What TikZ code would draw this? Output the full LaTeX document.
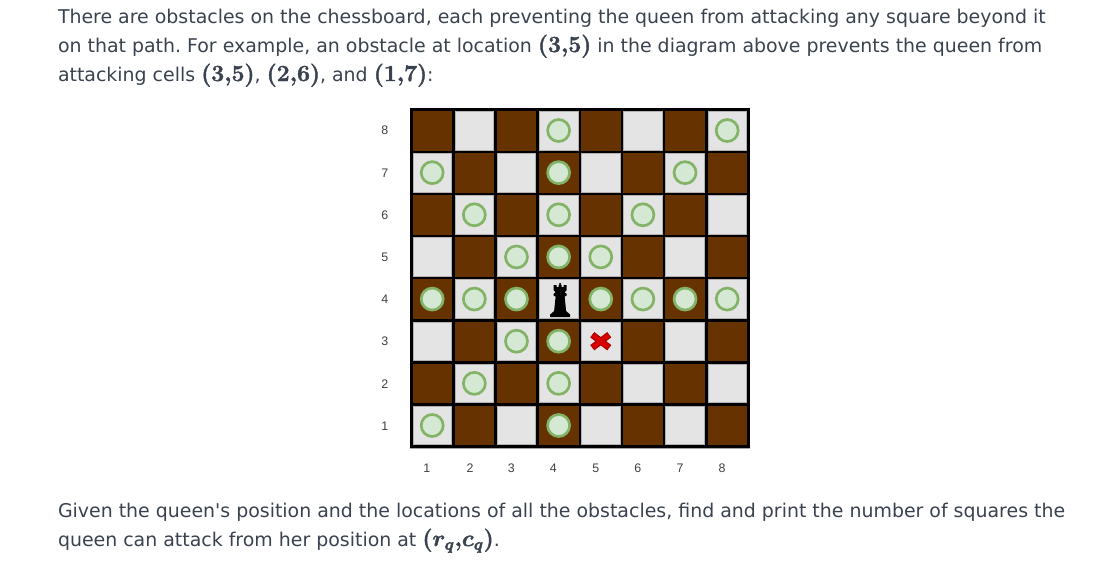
\documentclass[tikz,border=0pt]{standalone}
\usepackage{fontspec}
\setmainfont{DejaVu Sans}[Ligatures=TeXOff]
\newfontfamily\labelfont{Liberation Sans}
\usepackage{xcolor}
\usepackage{amsmath}
\definecolor{inkgray}{HTML}{39424E}
\definecolor{lightsq}{HTML}{E4E4E4}
\definecolor{darksq}{HTML}{663300}
\definecolor{markfill}{HTML}{D5E8D4}
\definecolor{markline}{HTML}{82B366}
\tikzstyle{textline} = [anchor=base west, inner sep=0pt, outer sep=0pt, text=inkgray, font=\fontsize{14.2}{16}\selectfont\frenchspacing]
\tikzstyle{cell0}    = [draw=black!30, fill=lightsq, line width=0.5pt, minimum size=29pt, inner sep=0pt]
\tikzstyle{cell1}    = [draw=darksq, fill=darksq, line width=0.5pt, minimum size=29pt, inner sep=0pt]
\tikzstyle{free}     = [draw=markline, fill=markfill, line width=2pt, circle, minimum size=16.5pt, inner sep=0pt]
\tikzstyle{axis}     = [inner sep=0pt, text=black!75, font=\labelfont\fontsize{9.3}{10}\selectfont]
\tikzstyle{obstacle} = [line cap=butt, line width=5pt]

\newcommand{\mth}[1]{{\special{pdf:code 2 Tr 0.3 w}\fontsize{17.28}{18}\selectfont\boldmath$#1$\special{pdf:code 0 Tr}}}

\begin{document}
\begin{tikzpicture}[x=0.75pt, y=-0.75pt]
\useasboundingbox (0,0) rectangle (1116,576);

% text above
\node[textline] (t1) at (58,23) {There are obstacles on the chessboard, each preventing the queen from attacking any square beyond it};
\node[textline] (t2) at (58,52) {on that path. For example, an obstacle at location \mth{(3{,}5)} in the diagram above prevents the queen from};
\node[textline] (t3) at (58,81) {attacking cells \mth{(3{,}5)}, \mth{(2{,}6)}, and \mth{(1{,}7)}:};

% board
\node[fill=black, minimum size=255pt, inner sep=0pt] (board) at (580,278) {};
\draw[black!35, line width=0.5pt] (board.south west) -- (board.south east);
\foreach \r in {1,...,8}
  \foreach \c in {1,...,8} {
    \pgfmathtruncatemacro{\sq}{mod(\r+\c,2)}
    \node[cell\sq] (c\r\c) at ({432.2+(\c-1)*42.14},{130.5+(8-\r)*42.14}) {};
  }

% row numbers
\node[axis] (r8) at (384.7,130.7) {8};
\node[axis] (r7) at (384.7,172.9) {7};
\node[axis] (r6) at (384.7,215) {6};
\node[axis] (r5) at (384.7,257) {5};
\node[axis] (r4) at (384.7,298.8) {4};
\node[axis] (r3) at (384.7,341.6) {3};
\node[axis] (r2) at (384.7,384) {2};
\node[axis] (r1) at (384.7,426) {1};

% column numbers
\node[axis] (k1) at (426.7,468) {1};
\node[axis] (k2) at (470,468) {2};
\node[axis] (k3) at (511.3,468) {3};
\node[axis] (k4) at (553.3,468) {4};
\node[axis] (k5) at (595.7,468) {5};
\node[axis] (k6) at (637.7,468) {6};
\node[axis] (k7) at (680,468) {7};
\node[axis] (k8) at (722,468) {8};

% attacked squares
\node[free] (m84) at (c84) {};
\node[free] (m88) at (c88) {};
\node[free] (m71) at (c71) {};
\node[free] (m74) at (c74) {};
\node[free] (m77) at (c77) {};
\node[free] (m62) at (c62) {};
\node[free] (m64) at (c64) {};
\node[free] (m66) at (c66) {};
\node[free] (m53) at (c53) {};
\node[free] (m54) at (c54) {};
\node[free] (m55) at (c55) {};
\node[free] (m41) at (c41) {};
\node[free] (m42) at (c42) {};
\node[free] (m43) at (c43) {};
\node[free] (m45) at (c45) {};
\node[free] (m46) at (c46) {};
\node[free] (m47) at (c47) {};
\node[free] (m48) at (c48) {};
\node[free] (m33) at (c33) {};
\node[free] (m34) at (c34) {};
\node[free] (m22) at (c22) {};
\node[free] (m24) at (c24) {};
\node[free] (m11) at (c11) {};
\node[free] (m14) at (c14) {};

% queen
\begin{scope}[shift={(c44)}]
\fill[black] (1.5,-15) circle (1.3);
\fill[black] (-8.5,18) -- (11.5,18) -- (11.5,15.5) -- (7.5,12) -- (6,-2.5) -- (8,-3.5) -- (8,-5.5) -- (6,-6.5) -- (8,-9) -- (8,-14) -- (5,-14) -- (5,-12) -- (3,-12) -- (3,-14) -- (0,-14) -- (0,-12) -- (-2,-12) -- (-2,-14) -- (-5,-14) -- (-5,-9) -- (-3,-6.5) -- (-5,-5.5) -- (-5,-3.5) -- (-3,-2.5) -- (-4.5,12) -- (-8.5,15.5) -- cycle;
\end{scope}

% obstacle
\begin{scope}[shift={(c35)}]
\draw[obstacle, red!65!black] (-8.5,-6.5) -- (8.5,6.5);
\draw[obstacle, red!65!black] (-8.5,6.5) -- (8.5,-6.5);
\draw[obstacle, line width=3.4pt, red!85!black] (-7.8,-6) -- (7.8,6);
\draw[obstacle, line width=3.4pt, red!85!black] (-7.8,6) -- (7.8,-6);
\end{scope}

% text below
\node[textline] (b1) at (58,517) {Given the queen's position and the locations of all the obstacles, find and print the number of squares the};
\node[textline] (b2) at (58,546) {queen can attack from her position at \mth{(r_q{,}c_q)}.};

\end{tikzpicture}
\end{document}
